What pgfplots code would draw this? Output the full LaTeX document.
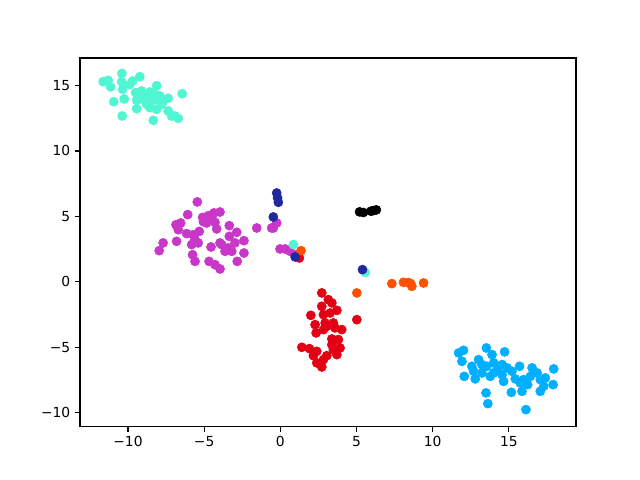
\documentclass[border=0pt]{standalone}
\usepackage{fontspec}
\setmainfont{DejaVu Sans}
\usepackage{pgfplots}
\pgfplotsset{compat=1.18}

\definecolor{aqua}{RGB}{80,245,210}
\definecolor{mag}{RGB}{200,55,200}
\definecolor{dblue}{RGB}{32,40,160}
\definecolor{cred}{RGB}{228,0,20}
\definecolor{orng}{RGB}{255,80,0}
\definecolor{sky}{RGB}{0,175,255}

\begin{document}
\begin{tikzpicture}
% 1px = 0.7227pt, figure 640x480 px, axes box 496x369 px
\useasboundingbox (-57.8pt,-38.3pt) rectangle (404.8pt,308.6pt);
\begin{axis}[
  scale only axis,
  width=358.5pt, height=266.7pt,
  xmin=-13.15, xmax=19.4, ymin=-11.07, ymax=17.1,
  xtick={-10,-5,0,5,10,15},
  xticklabels={−10,−5,0,5,10,15},
  ytick={-10,-5,0,5,10,15},
  yticklabels={−10,−5,0,5,10,15},
  xtick pos=bottom, ytick pos=left,
  tick align=outside,
  major tick length=3.5pt,
  every tick/.style={black, line width=0.8pt},
  axis line style={line width=0.8pt},
  tick label style={font=\fontsize{10}{12}\selectfont},
  every axis plot/.append style={only marks, mark=*, mark size=3.3pt},
]
% magenta
\addplot[mark options={fill=mag, draw=mag}] coordinates {
(-5.45,6.11)(-6.08,5.14)(-5.10,4.93)(-4.73,5.06)(-4.36,5.27)(-3.96,5.34)
(-4.51,4.76)(-4.29,4.55)(-4.84,4.50)(-6.85,4.37)(-6.54,4.50)(-6.70,3.99)
(-4.18,4.05)(-3.35,4.30)(-5.32,3.86)(-6.15,3.69)(-5.72,3.61)(-2.86,3.79)
(-3.35,3.48)(-1.55,4.12)(-0.57,4.12)(-0.24,4.50)(-0.46,4.12)(-7.69,2.98)
(-7.95,2.39)(-6.81,3.10)(-5.60,3.23)(-5.82,2.85)(-5.39,2.98)(-4.55,2.67)
(-3.85,2.85)(-3.96,2.98)(-3.42,2.60)(-2.98,2.98)(-2.39,3.15)(-3.63,2.34)
(-3.19,2.34)(-2.39,2.21)(-5.76,2.08)(-5.60,1.57)(-4.68,1.57)(-4.29,1.32)
(-3.96,0.99)(-2.83,1.57)(-0.02,2.52)(0.31,2.52)(0.64,2.34)(0.97,2.08)
(-4.45,5.10)(-4.90,4.80)(-5.05,4.60)
};
% aquamarine
\addplot[mark options={fill=aqua, draw=aqua}] coordinates {
(-10.40,15.92)(-9.22,15.67)(-11.63,15.29)(-11.30,15.39)(-11.14,14.89)
(-10.42,15.29)(-10.35,14.70)(-9.70,15.34)(-9.87,15.08)(-8.12,14.98)
(-9.50,14.45)(-9.11,14.58)(-8.56,14.50)(-8.23,14.32)(-6.44,14.37)
(-10.93,13.76)(-10.25,13.97)(-9.43,13.86)(-9.00,13.94)(-8.78,13.56)
(-8.56,13.31)(-8.12,13.94)(-7.79,13.56)(-7.36,14.02)(-9.43,13.23)
(-8.12,13.18)(-7.36,13.05)(-7.69,13.82)(-10.38,12.67)(-8.34,12.34)
(-7.14,12.67)(-6.70,12.49)(-6.92,12.67)(-8.78,14.20)(-8.45,13.82)
(-7.90,14.20)(-9.22,14.32)
(0.86,2.85)(5.57,0.73)
};
% red
\addplot[mark options={fill=cred, draw=cred}] coordinates {
(2.72,-0.84)(3.15,-1.35)(3.38,-1.60)(2.72,-1.86)(3.71,-2.17)(2.00,-2.55)
(5.02,-2.88)(2.83,-2.50)(3.27,-2.37)(2.28,-3.26)(2.94,-3.13)(3.48,-3.13)
(4.03,-3.64)(2.35,-3.89)(2.83,-3.64)(3.59,-3.51)(3.05,-3.39)(3.38,-4.35)
(3.81,-4.40)(3.38,-4.79)(1.41,-4.99)(1.91,-5.09)(2.39,-5.30)(3.92,-5.04)
(3.48,-5.17)(3.71,-5.55)(3.05,-5.63)(2.17,-5.63)(2.83,-5.93)(2.39,-6.18)
(2.72,-6.49)
(1.25,1.83)
};
% orange
\addplot[mark options={fill=orng, draw=orng}] coordinates {
(7.32,-0.13)(8.08,-0.03)(8.41,-0.05)(8.63,-0.33)(8.55,-0.12)(9.40,-0.08)
(5.02,-0.84)(1.36,2.39)
};
% dark blue
\addplot[mark options={fill=dblue, draw=dblue}] coordinates {
(-0.24,6.79)(-0.18,6.41)(-0.13,6.08)(-0.46,4.96)(0.97,1.91)(5.39,0.94)
};
% black
\addplot[mark options={fill=black, draw=black}] coordinates {
(5.20,5.35)(5.45,5.30)(5.95,5.40)(6.10,5.45)(6.30,5.50)
};
% sky blue
\addplot[mark options={fill=sky, draw=sky}] coordinates {
(11.70,-5.42)(12.02,-5.22)(11.92,-6.06)(13.52,-5.04)(13.89,-5.55)(14.72,-5.34)
(13.01,-5.93)(12.57,-6.44)(13.23,-6.31)(14.00,-6.18)(14.55,-6.31)(14.88,-6.56)
(15.70,-6.44)(16.52,-6.56)(12.07,-7.21)(12.79,-7.40)(13.23,-6.95)(13.78,-7.21)
(14.55,-7.08)(15.20,-6.82)(14.65,-7.59)(15.42,-7.40)(15.97,-7.46)(16.23,-7.84)
(16.85,-6.95)(17.06,-7.46)(17.39,-7.33)(17.94,-6.64)(17.06,-8.35)(17.90,-7.84)
(16.41,-7.21)(17.28,-7.97)(13.56,-6.44)(14.22,-6.69)(15.75,-7.71)(12.68,-6.82)
(14.00,-6.95)(15.86,-8.35)(15.16,-8.43)(13.50,-8.47)(13.62,-9.29)(16.12,-9.75)
};
\end{axis}
\end{tikzpicture}
\end{document}
